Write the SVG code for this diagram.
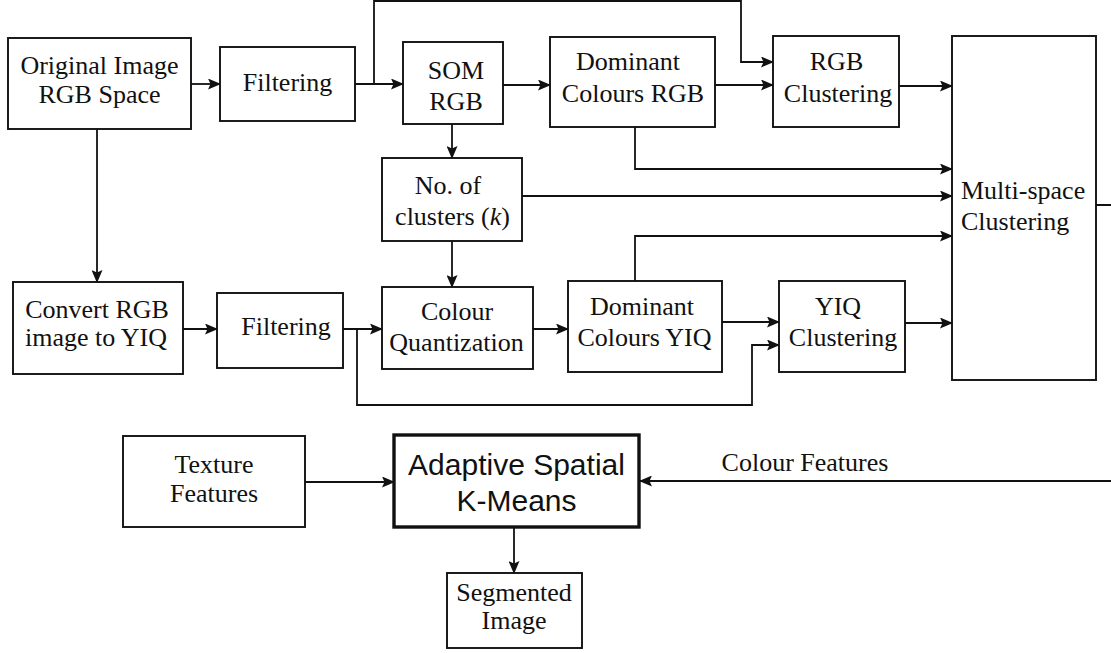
<svg xmlns="http://www.w3.org/2000/svg" width="1111" height="653" viewBox="0 0 1111 653">
<defs>
<marker id="ah" markerUnits="userSpaceOnUse" markerWidth="13" markerHeight="11" viewBox="0 0 13 11" refX="12" refY="5.5" orient="auto">
<path d="M0,0 L13,5.5 L0,11 L2.5,5.5 Z" fill="#111"/>
</marker>
<style>
.b{fill:#fff;stroke:#111;stroke-width:1.9}
.bt{fill:#fff;stroke:#111;stroke-width:3.4}
.t{font-family:"Liberation Serif","Times New Roman",serif;font-size:26px;fill:#111;text-anchor:middle}
.s{font-family:"Liberation Sans",Arial,sans-serif;font-size:30px;fill:#111;text-anchor:middle}
.c{fill:none;stroke:#111;stroke-width:1.8}
.a{marker-end:url(#ah)}
</style>
</defs>
<rect width="1111" height="653" fill="#fff"/>
<g id="connectors">
<path class="c a" d="M191,84 H220"/>
<path class="c a" d="M355,84 H403"/>
<path class="c a" d="M374,84 V1 H741 V62 H773"/>
<path class="c a" d="M503,85 H550"/>
<path class="c a" d="M715,85 H773"/>
<path class="c a" d="M899,86 H952"/>
<path class="c a" d="M635,127 V169 H952"/>
<path class="c a" d="M452,124 V158"/>
<path class="c a" d="M522,196 H952"/>
<path class="c a" d="M452,241 V287"/>
<path class="c a" d="M97,129 V282"/>
<path class="c a" d="M183,329 H217"/>
<path class="c a" d="M343,329 H382"/>
<path class="c a" d="M357,329 V405 H752 V345 H779"/>
<path class="c a" d="M533,329 H568"/>
<path class="c a" d="M722,322 H779"/>
<path class="c a" d="M635,281 V236 H952"/>
<path class="c a" d="M905,323 H952"/>
<path class="c a" d="M1096,205 H1116 V481 H640"/>
<path class="c a" d="M305,482 H394"/>
<path class="c a" d="M514,527 V573"/>
</g>
<g id="original"><rect class="b" x="8" y="38" width="183" height="91"/><text class="t" x="99.5" y="74">Original Image</text><text class="t" x="99.5" y="103">RGB Space</text></g>
<g id="filtering1"><rect class="b" x="220" y="47" width="135" height="74"/><text class="t" x="287.5" y="91">Filtering</text></g>
<g id="som"><rect class="b" x="403" y="42" width="100" height="82"/><text class="t" x="456" y="79">SOM</text><text class="t" x="456" y="110">RGB</text></g>
<g id="domrgb"><rect class="b" x="550" y="37" width="165" height="90"/><text class="t" x="628" y="70">Dominant</text><text class="t" x="633" y="102">Colours RGB</text></g>
<g id="rgbclust"><rect class="b" x="773" y="36" width="126" height="91"/><text class="t" x="836.5" y="70">RGB</text><text class="t" x="838" y="102">Clustering</text></g>
<g id="multispace"><rect class="b" x="952" y="36" width="144" height="344"/><text class="t" x="961" y="199" style="text-anchor:start">Multi-space</text><text class="t" x="961" y="230" style="text-anchor:start">Clustering</text></g>
<g id="nclusters"><rect class="b" x="382" y="158" width="140" height="83"/><text class="t" x="448" y="194">No. of</text><text class="t" x="452.5" y="225">clusters (<tspan font-style="italic">k</tspan>)</text></g>
<g id="convert"><rect class="b" x="13" y="282" width="170" height="92"/><text class="t" x="97" y="318">Convert RGB</text><text class="t" x="96" y="346">image to YIQ</text></g>
<g id="filtering2"><rect class="b" x="217" y="293" width="126" height="75"/><text class="t" x="286" y="335">Filtering</text></g>
<g id="quant"><rect class="b" x="382" y="287" width="151" height="82"/><text class="t" x="457" y="320">Colour</text><text class="t" x="456.5" y="351">Quantization</text></g>
<g id="domyiq"><rect class="b" x="568" y="281" width="154" height="91"/><text class="t" x="642" y="315">Dominant</text><text class="t" x="644.5" y="346">Colours YIQ</text></g>
<g id="yiqclust"><rect class="b" x="779" y="281" width="126" height="91"/><text class="t" x="838" y="315">YIQ</text><text class="t" x="843" y="346">Clustering</text></g>
<g id="texture"><rect class="b" x="123" y="436" width="182" height="91"/><text class="t" x="214" y="473">Texture</text><text class="t" x="214" y="502">Features</text></g>
<g id="adaptive"><rect class="bt" x="394" y="435" width="245" height="92"/><text class="s" x="516.5" y="475">Adaptive Spatial</text><text class="s" x="516.5" y="511">K-Means</text></g>
<g id="segmented"><rect class="b" x="447" y="573" width="135" height="75"/><text class="t" x="514" y="601">Segmented</text><text class="t" x="514" y="629">Image</text></g>
<text class="t" x="805" y="471">Colour Features</text>
</svg>
